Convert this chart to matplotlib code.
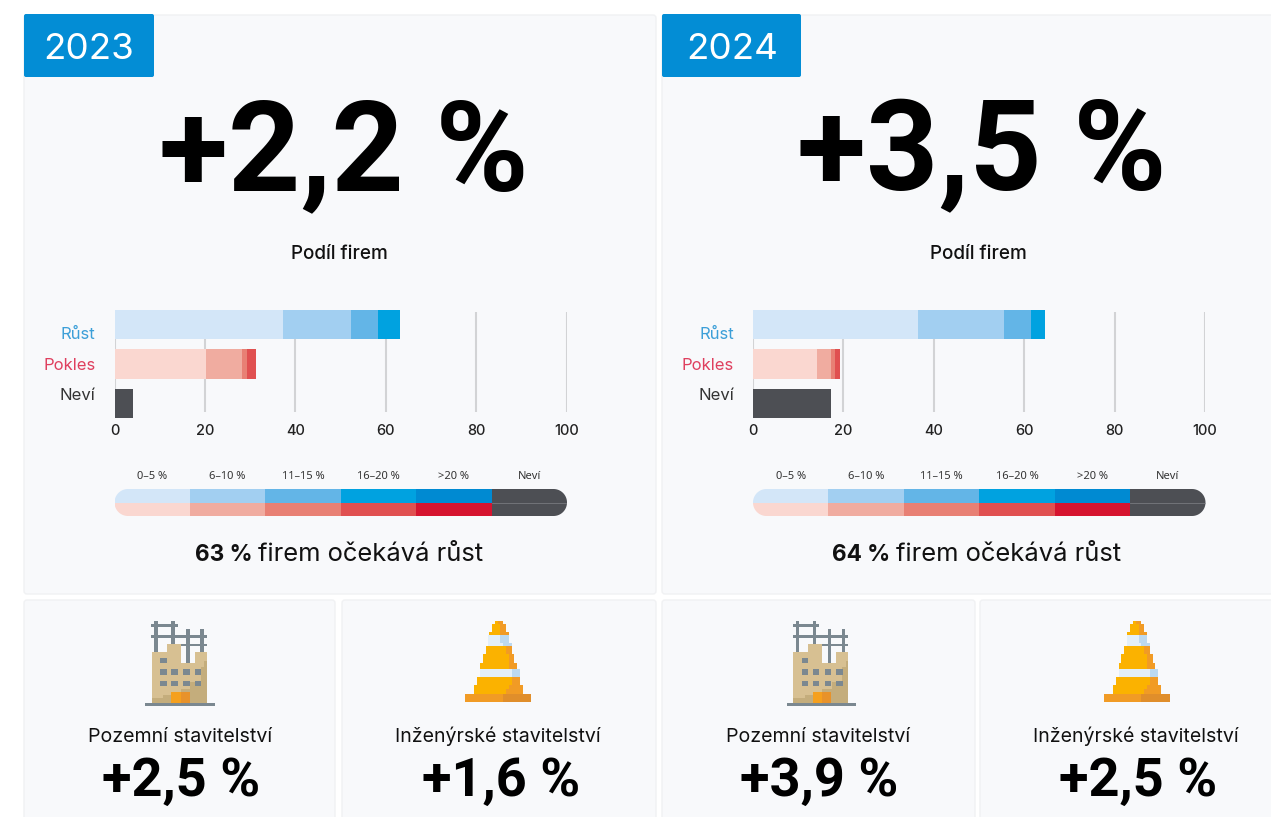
import numpy as np
import matplotlib
matplotlib.use('Agg')
import matplotlib.pyplot as plt
from matplotlib.patches import Rectangle, FancyBboxPatch, Polygon

# Data
years = ['2023', '2024']
totals = ['+2,2 %', '+3,5 %']
categories = ['Růst', 'Pokles', 'Neví']
grow_2023 = [37.3, 15.1, 6.0, 4.8]
fall_2023 = [20.3, 8.0, 1.0, 2.1]
unknown_2023 = [4.2]
grow_2024 = [36.4, 19.2, 6.0, 3.1]
fall_2024 = [14.2, 3.1, 0.9, 1.1]
unknown_2024 = [17.3]
share_labels = ['63 %', '64 %']
xticks = [0, 20, 40, 60, 80, 100]
legend_labels = ['0–5 %', '6–10 %', '11–15 %', '16–20 %', '>20 %', 'Neví']
sector_names = ['Pozemní stavitelství', 'Inženýrské stavitelství']
sector_2023 = ['+2,5 %', '+1,6 %']
sector_2024 = ['+3,9 %', '+2,5 %']

blues = ['#d3e6f8', '#a2cff1', '#63b5e7', '#00a2e0', '#008ad2']
reds = ['#fad7d0', '#f0aca0', '#e88074', '#e05050', '#d6142f']
dark = '#4d4f54'
panel_bg = '#f8f9fb'
panel_edge = '#f0f1f3'
MAIN_FONT = ['Inter', 'DejaVu Sans']
BIG_FONT = ['Roboto', 'DejaVu Sans']
SMALL_FONT = ['Noto Sans', 'DejaVu Sans']

fig = plt.figure(figsize=(12.71, 8.17), dpi=100, facecolor='white')
bg = fig.add_axes([0, 0, 1, 1])
bg.set_xlim(0, 1271)
bg.set_ylim(817, 0)
bg.axis('off')


def box(x0, y0, x1, y1, color, z=3):
    bg.add_patch(Rectangle((x0, y0), x1 - x0, y1 - y0, fc=color, ec='none', zorder=z))


def panel(x0, y0, x1, y1):
    bg.add_patch(FancyBboxPatch((x0, y0), x1 - x0, y1 - y0, boxstyle='round,pad=0,rounding_size=3',
                                fc=panel_bg, ec=panel_edge, lw=1, zorder=1))


# Outline with fully round ends, used to clip the colour key
def pill(x0, y0, x1, y1):
    rad = (y1 - y0) / 2
    t = np.linspace(-np.pi / 2, np.pi / 2, 40)
    right = np.column_stack([x1 - rad + rad * np.cos(t), (y0 + y1) / 2 + rad * np.sin(t)])
    left = np.column_stack([x0 + rad - rad * np.cos(t[::-1]), (y0 + y1) / 2 + rad * np.sin(t[::-1])])
    return Polygon(np.vstack([right, left]), closed=True, fc='none', ec='none')


# Building icon, coordinates taken from a 3x crop
def building(ox, oy):
    def r(a, b, c, d, col):
        box(ox + a / 3, oy + b / 3, ox + c / 3, oy + d / 3, col)
    grey = '#7b8890'
    for a, b, c, d in [(73, 33, 83, 130), (124, 33, 134, 105), (169, 57, 179, 160), (211, 57, 221, 130),
                       (64, 42, 143, 50), (64, 75, 230, 84), (152, 102, 230, 108)]:
        r(a, b, c, d, grey)
    tan = '#d7c092'
    shade = '#c4ad7c'
    r(65, 125, 152, 279, tan)
    r(110, 102, 152, 125, tan)
    r(152, 158, 230, 279, tan)
    r(194, 125, 230, 158, tan)
    r(222, 152, 230, 279, shade)
    r(212, 170, 230, 279, shade)
    r(180, 215, 230, 279, shade)
    r(152, 238, 230, 279, shade)
    r(100, 254, 152, 279, shade)
    r(65, 264, 100, 279, shade)
    for a in [91, 124, 160, 194]:
        r(a, 177, a + 19, 195, grey)
        r(a, 212, a + 19, 228, grey)
    r(91, 143, 110, 159, grey)
    r(124, 246, 152, 279, '#f5a01e')
    r(152, 246, 179, 279, '#e8922a')
    r(46, 279, 254, 288, grey)


# Cone icon
def cone(ox, oy):
    def r(a, b, c, d, col):
        box(ox + a / 3, oy + b / 3, ox + c / 3, oy + d / 3, col)
    yellow = '#fbb200'
    orange = '#f19b25'
    white = '#e3eff8'
    light = '#bcd9f0'
    r(134, 33, 158, 42, yellow)
    r(143, 33, 158, 42, orange)
    r(125, 42, 167, 66, yellow)
    r(150, 42, 167, 66, orange)
    r(116, 66, 176, 75, yellow)
    r(150, 66, 176, 75, orange)
    r(115, 75, 176, 98, white)
    r(150, 75, 176, 98, light)
    r(115, 98, 185, 107, white)
    r(158, 98, 185, 107, light)
    r(107, 107, 185, 132, yellow)
    r(167, 107, 185, 132, orange)
    r(98, 132, 193, 158, yellow)
    r(176, 132, 193, 158, orange)
    r(91, 158, 200, 177, yellow)
    r(176, 158, 200, 177, orange)
    r(91, 177, 209, 200, white)
    r(185, 177, 209, 200, light)
    r(82, 200, 209, 225, yellow)
    r(185, 200, 209, 225, orange)
    r(73, 225, 218, 252, yellow)
    r(167, 238, 218, 252, orange)
    r(176, 225, 218, 238, orange)
    r(46, 252, 244, 276, orange)
    r(158, 252, 244, 276, '#e08e2b')


# Panels for the two years
grow_rows = [grow_2023, grow_2024]
fall_rows = [fall_2023, fall_2024]
unknown_rows = [unknown_2023, unknown_2024]
sector_rows = [sector_2023, sector_2024]
left_edges = [24, 662]
right_edges = [656, 1290]
shifts = [0, 638.5]
label_y = [334, 365, 395]
label_colors = ['#3c9fd8', '#df3f5e', '#333333']

for i, year in enumerate(years):
    s = shifts[i]
    panel(left_edges[i], 15, right_edges[i], 594)
    bg.add_patch(FancyBboxPatch((left_edges[i], 14), 130 if i == 0 else 139, 63,
                                boxstyle='round,pad=0,rounding_size=2', fc='#038dd5', ec='none', zorder=2))
    bg.text(left_edges[i] + (65 if i == 0 else 70), 59, year, color='white', fontsize=26.5, family=MAIN_FONT,
            fontweight='normal', ha='center', va='baseline', zorder=3)
    bg.text(343.5 + s, 190, totals[i], fontsize=91, family=BIG_FONT, fontweight='bold', color='black',
            ha='center', va='baseline', zorder=3)
    bg.text(339.5 + s, 259, 'Podíl firem', fontsize=13.6, family=MAIN_FONT, fontweight='medium', color='#111111',
            ha='center', va='baseline', zorder=3)

    # stacked bars
    ax = fig.add_axes([(114.5 + s) / 1271, 1 - 418 / 817, 452 / 1271, 108 / 817])
    ax.patch.set_alpha(0)
    ax.set_xlim(0, 100)
    ax.set_ylim(2.37, -0.37)
    ax.vlines(xticks[1:], 0.055, 0.98, transform=ax.get_xaxis_transform(), color='#d2d3d5', lw=1.5, zorder=1)
    ax.vlines(xticks[0], 0, 0.98, transform=ax.get_xaxis_transform(), color='#d2d3d5', lw=1.5, zorder=1)
    rows = [(grow_rows[i], blues), (fall_rows[i], reds), (unknown_rows[i], [dark])]
    for y, (vals, cols) in enumerate(rows):
        left = 0
        for v, c in zip(vals, cols):
            ax.barh(y, v, left=left, height=0.747, color=c, zorder=2)
            left += v
    for sp in ax.spines.values():
        sp.set_visible(False)
    ax.set_xticks(xticks)
    ax.set_xticklabels(xticks, fontsize=10.5, family=MAIN_FONT, fontweight='medium', color='#222222')
    ax.set_yticks([])
    ax.tick_params(axis='x', length=0, pad=4)
    for name, ly, col in zip(categories, label_y, label_colors):
        bg.text(95.5 + s, ly, name, fontsize=12, family=MAIN_FONT, color=col, ha='right', va='center', zorder=3)

    # colour key
    key = fig.add_axes([(114.5 + s) / 1271, 1 - 516 / 817, 452.5 / 1271, 27 / 817])
    key.set_xlim(0, 6)
    key.set_ylim(0, 2)
    key.axis('off')
    clip = pill(114.5 + s, 489, 567 + s, 516)
    bg.add_patch(clip)
    key_top = blues + [dark]
    key_bottom = reds + [dark]
    for k in range(6):
        b1 = key.bar(k + 0.5, 1, width=1, bottom=1, color=key_top[k])
        b2 = key.bar(k + 0.5, 1, width=1, bottom=0, color=key_bottom[k])
        b1[0].set_clip_path(clip)
        b2[0].set_clip_path(clip)
        bg.text(114.5 + s + (k + 0.5) * 75.4, 476, legend_labels[k], fontsize=8, family=SMALL_FONT,
                color='#333333', ha='center', va='center', zorder=3)
    line = key.plot([5, 6], [1, 1], color='#77797e', lw=0.6)
    line[0].set_clip_path(clip)

    bg.text(195 + s - (i * 1.5), 561, share_labels[i], fontsize=16.3, family=MAIN_FONT, fontweight='bold',
            color='#111111', ha='left', va='baseline', zorder=3)
    bg.text(258 + s, 561, 'firem očekává růst', fontsize=18.4, family=MAIN_FONT, color='#111111',
            ha='left', va='baseline', zorder=3)

# Lower cards
card_edges = [(24, 335), (342, 656), (662, 975), (980, 1290)]
icon_x = [130, 450, 771.5, 1088.5]
name_x = [180.5, 498, 818, 1136]
value_x = [181.5, 501, 819, 1138]
for j, (x0, x1) in enumerate(card_edges):
    panel(x0, 600, x1, 835)
    if j % 2 == 0:
        building(icon_x[j], 610)
    else:
        cone(icon_x[j], 610)
    bg.text(name_x[j], 742, sector_names[j % 2], fontsize=14.1, family=MAIN_FONT, color='#111111',
            ha='center', va='baseline', zorder=3)
    bg.text(value_x[j], 796, sector_rows[j // 2][j % 2], fontsize=39, family=BIG_FONT, fontweight='bold',
            color='black', ha='center', va='baseline', zorder=3)

fig.savefig('out.png', dpi=100, facecolor='white')
